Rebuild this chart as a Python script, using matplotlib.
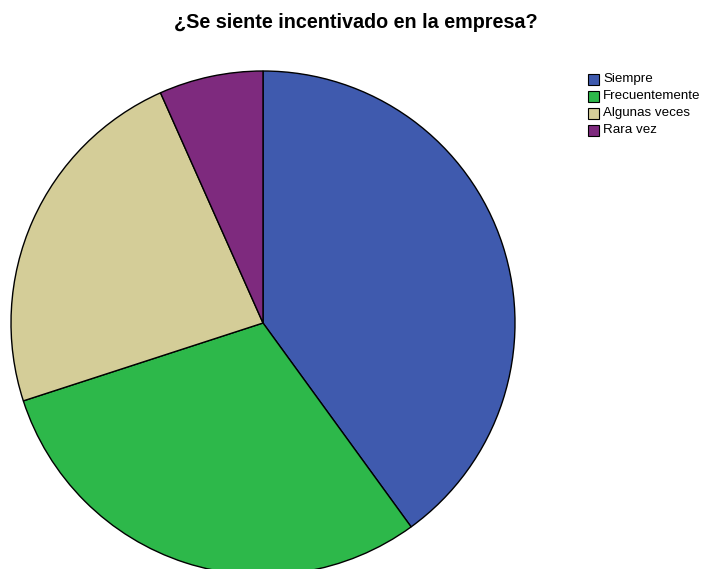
import matplotlib
matplotlib.use("Agg")
import matplotlib.pyplot as plt
from matplotlib.patches import Rectangle

plt.rcParams['font.family'] = ['Liberation Sans', 'DejaVu Sans']

title = "¿Se siente incentivado en la empresa?"
categories = ["Siempre", "Frecuentemente", "Algunas veces", "Rara vez"]
counts = [12, 9, 7, 2]
colors = ["#3F5AAE", "#2DB84A", "#D4CD98", "#7E2A7E"]

W, H = 703, 569
fig = plt.figure(figsize=(W / 100, H / 100), dpi=100)
ax = fig.add_axes([0, 0, 1, 1])
ax.set_xlim(0, W)
ax.set_ylim(0, H)
ax.set_aspect('equal')
ax.axis('off')

ax.pie(counts, colors=colors, startangle=90, counterclock=False,
       center=(263, H - 323), radius=252, frame=True,
       wedgeprops=dict(edgecolor='black', linewidth=1.0))
ax.set_xlim(0, W)
ax.set_ylim(0, H)
ax.axis('off')

ax.text(356, H - 22, title, ha='center', va='center',
        fontsize=14.2, fontweight='bold')

# legend
y0 = 79
step = 17
for i, (lab, col) in enumerate(zip(categories, colors)):
    yc = H - (y0 + i * step)
    ax.add_patch(Rectangle((588, yc - 5.5), 11, 11, facecolor=col,
                           edgecolor='black', linewidth=0.8))
    ax.text(603, yc, lab, ha='left', va='center', fontsize=9.6)

fig.savefig("out.png", dpi=100)
